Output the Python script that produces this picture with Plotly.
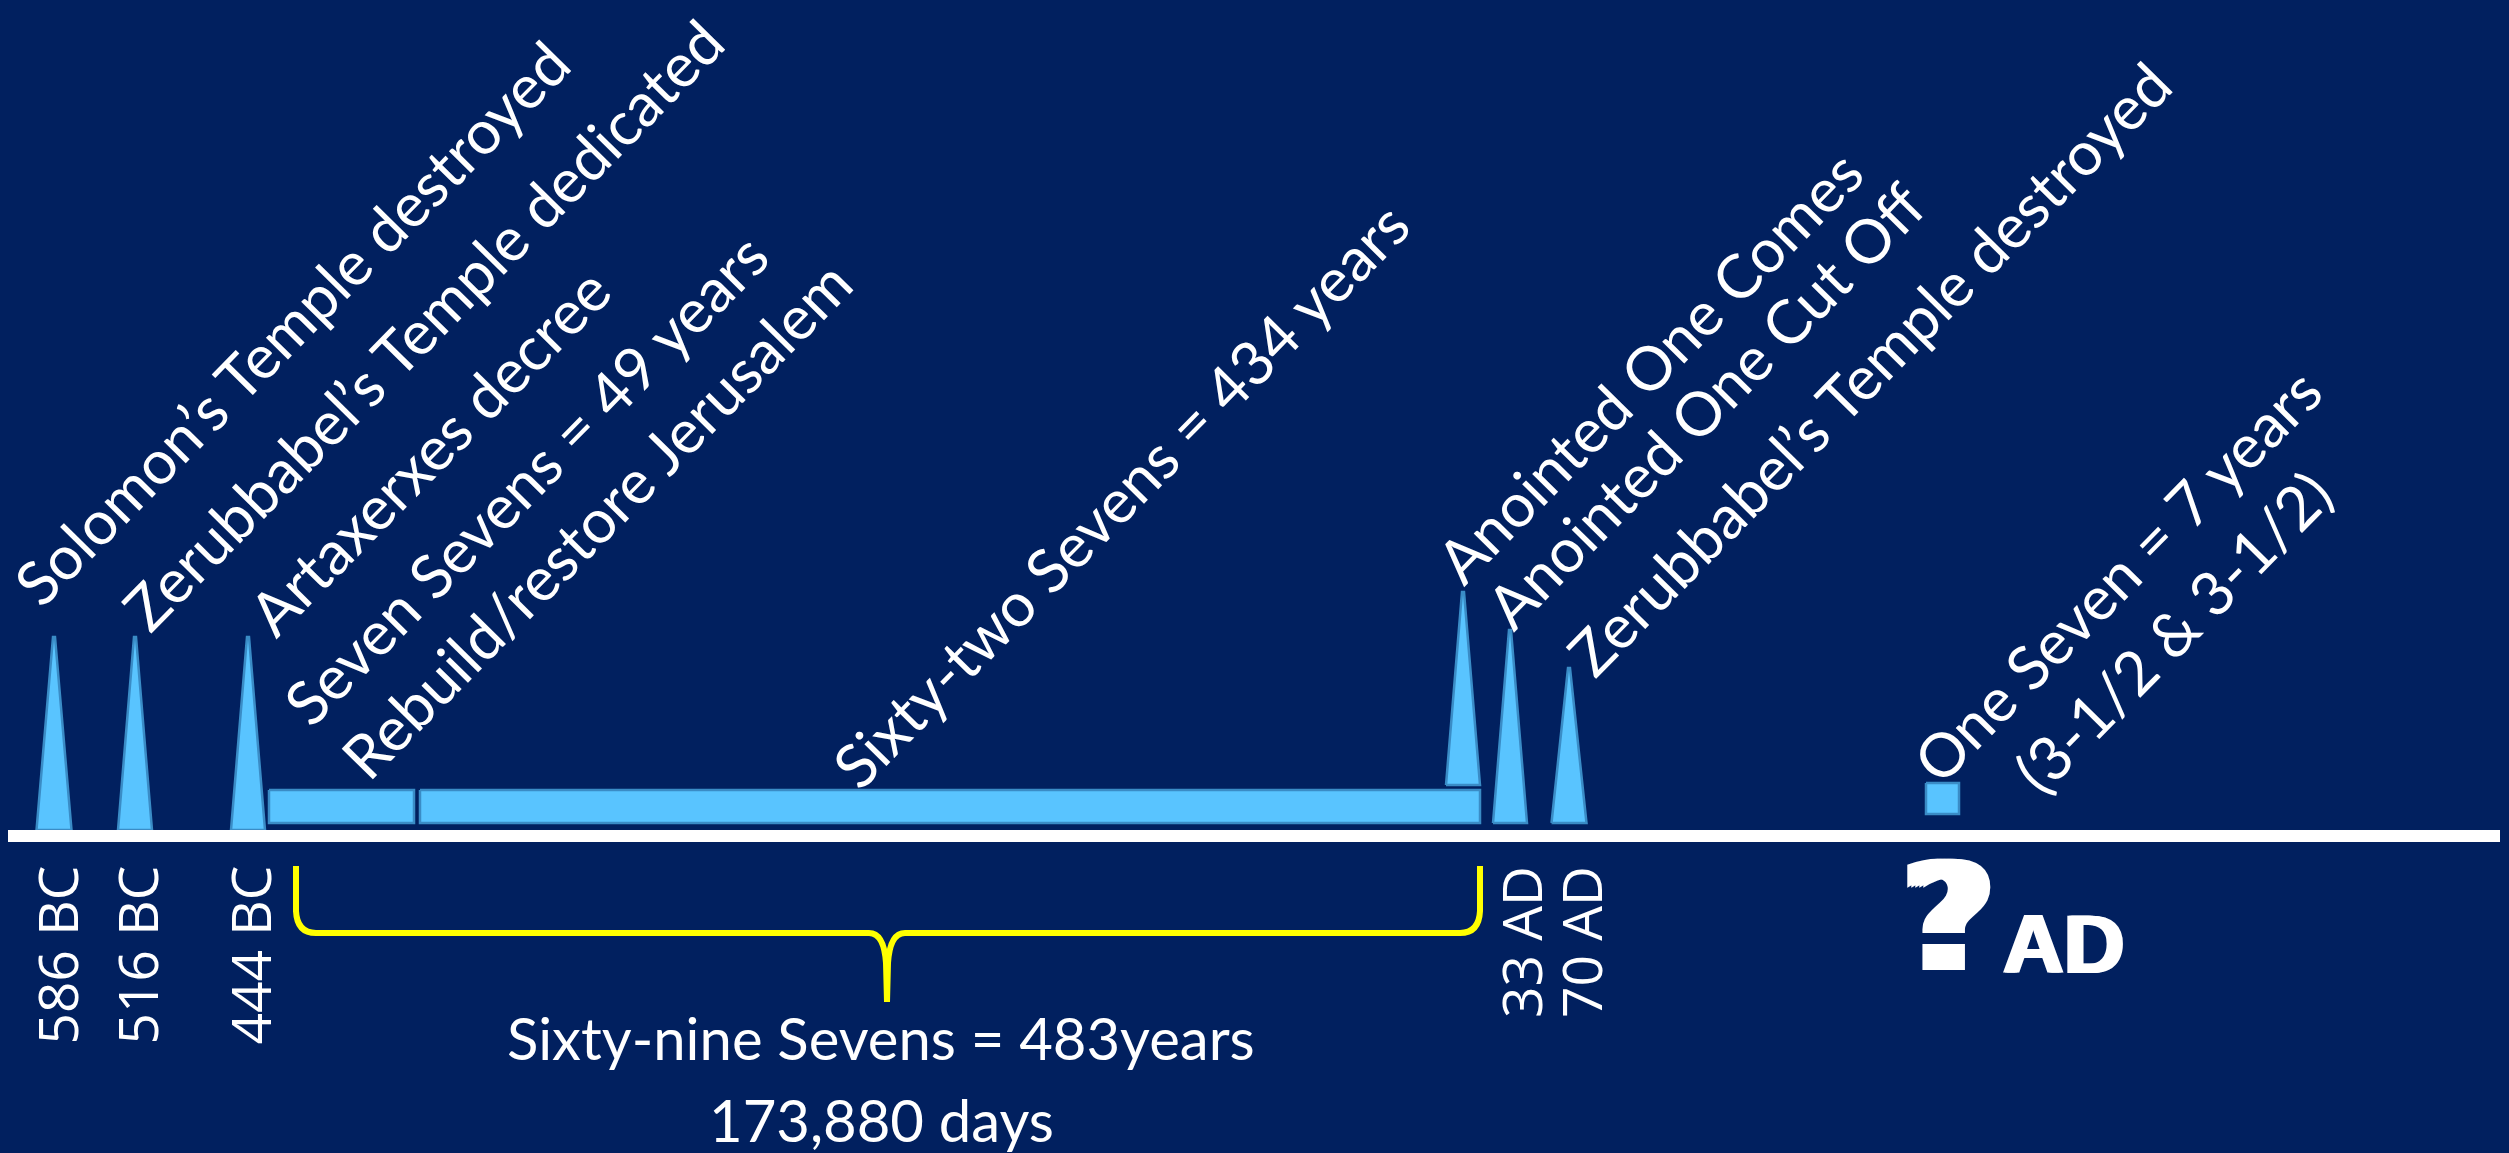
import plotly.graph_objects as go

# ---------------- data (text content) ----------------
event_labels = [
    "Solomon’s Temple destroyed",
    "Zerubbabel’s Temple dedicated",
    "Artaxerxes decree",
    "Anointed One Comes",
    "Anointed One Cut Off",
    "Zerubbabel’s Temple destroyed",
]
date_labels = ["586 BC", "516 BC", "444 BC", "33 AD", "70 AD"]
period_labels = [
    "Seven Sevens = 49 years",
    "Rebuild/restore Jerusalem",
    "Sixty-two Sevens = 434 years",
    "One Seven = 7 years",
    "(3-1/2 & 3-1/2)",
]
span_labels = ["Sixty-nine Sevens = 483years", "173,880 days"]
future_labels = ["?", "AD"]

# ---------------- layout geometry (diagram units = pixels) ----------------
W, H = 2509, 1153
spike_x = [54, 135, 248, 1463, 1510, 1569]
spike_top = [637, 637, 637, 592, 630, 668]
spike_base = [830, 830, 830, 785, 823, 823]
spike_half = [17.5, 17, 17, 17, 17, 17.5]

block_x0 = [269, 420, 1926]
block_x1 = [414, 1480, 1959]
block_y0 = [790, 790, 783]
block_y1 = [823, 823, 814]

axis_y0, axis_y1, axis_x0, axis_x1 = 830, 842, 8, 2500

date_x = [56, 136, 249, 1520, 1580]
date_top = 864

event_cx = [291, 422, 1648, 1704, 1868]
event_cy = [322, 324, 366, 405, 368]
artax_c = (428, 451)
period_cx = [525, 595, 1120, 2116, 2172]
period_cy = [478, 519, 494, 575, 631]

span_cx = 881
span_cy = [1037, 1119]

brace = dict(x0=296, x1=1480, xm=887, top=866, bar=933, tip=1002)

q_c = (1948, 918)
ad_c = (2063, 944)

# ---------------- styles ----------------
BG = "#01205F"
FILL = "#59C4FF"
EDGE = "#3A8CC6"
WHITE = "#FFFFFF"
YELLOW = "#FFFF00"
ANGLE = -45.5
DIAG_FONT = dict(family="Lato", size=61, color=WHITE)
DATE_FONT = dict(family="Open Sans", size=55, color=WHITE)
SPAN_FONT = dict(family="Lato", size=58, color=WHITE)
Q_FONT = dict(family="DejaVu Sans", size=150, color=WHITE, weight="bold",
              shadow="8px 0 0 #fff, -8px 0 0 #fff, 4px 0 0 #fff, -4px 0 0 #fff")
AD_FONT = dict(family="Liberation Sans", size=84, color=WHITE, weight="bold",
               shadow="2px 0 0 #fff, -2px 0 0 #fff")

fig = go.Figure()

# spikes (triangles)
for cx, top, base, hw in zip(spike_x, spike_top, spike_base, spike_half):
    fig.add_trace(go.Scatter(
        x=[cx - hw, cx - 1, cx + 1, cx + hw, cx - hw],
        y=[base, top, top, base, base],
        mode="lines", fill="toself", fillcolor=FILL,
        line=dict(color=EDGE, width=2.5), hoverinfo="skip", showlegend=False))

# blocks
for x0, x1, y0, y1 in zip(block_x0, block_x1, block_y0, block_y1):
    fig.add_trace(go.Scatter(
        x=[x0, x1, x1, x0, x0], y=[y0, y0, y1, y1, y0],
        mode="lines", fill="toself", fillcolor=FILL,
        line=dict(color=EDGE, width=2.5), hoverinfo="skip", showlegend=False))

# time axis line
fig.add_shape(type="rect", xref="x", yref="y", x0=axis_x0, x1=axis_x1,
              y0=axis_y0, y1=axis_y1, fillcolor=WHITE, line=dict(width=0))

# brace
b = brace
path = (
    f"M {b['x0']} {b['top']} L {b['x0']} {b['bar']-22} "
    f"Q {b['x0']+1} {b['bar']} {b['x0']+20} {b['bar']} "
    f"L {b['xm']-18} {b['bar']} "
    f"Q {b['xm']-3} {b['bar']} {b['xm']-1} {b['bar']+30} "
    f"L {b['xm']} {b['tip']} "
    f"L {b['xm']+1} {b['bar']+30} "
    f"Q {b['xm']+3} {b['bar']} {b['xm']+18} {b['bar']} "
    f"L {b['x1']-20} {b['bar']} "
    f"Q {b['x1']-1} {b['bar']} {b['x1']} {b['bar']-22} "
    f"L {b['x1']} {b['top']}"
)
fig.add_shape(type="path", xref="x", yref="y", path=path,
              line=dict(color=YELLOW, width=6))

annotations = []

def add_text(text, x, y, font, angle=0, xanchor="center", yanchor="middle"):
    annotations.append(dict(text=text, x=x, y=y, xref="x", yref="y",
                            showarrow=False, textangle=angle, font=font,
                            xanchor=xanchor, yanchor=yanchor))

# event captions
ev_order = [0, 1, 3, 4, 5]
for i, cx, cy in zip(ev_order, event_cx, event_cy):
    add_text(event_labels[i], cx, cy, DIAG_FONT, ANGLE)
add_text(event_labels[2], artax_c[0], artax_c[1], DIAG_FONT, ANGLE)

# period captions
for lab, cx, cy in zip(period_labels, period_cx, period_cy):
    add_text(lab, cx, cy, DIAG_FONT, ANGLE)

# dates (vertical)
for lab, x in zip(date_labels, date_x):
    add_text(lab, x, date_top, DATE_FONT, -90, "center", "top")

# span captions
for lab, cy in zip(span_labels, span_cy):
    add_text(lab, span_cx, cy, SPAN_FONT)

# future
add_text(future_labels[0], q_c[0], q_c[1], Q_FONT)
add_text(future_labels[1], ad_c[0], ad_c[1], AD_FONT)

fig.update_layout(
    width=W, height=H,
    margin=dict(l=0, r=0, t=0, b=0, pad=0),
    paper_bgcolor=BG, plot_bgcolor=BG,
    xaxis=dict(range=[0, W], visible=False, fixedrange=True),
    yaxis=dict(range=[H, 0], visible=False, fixedrange=True),
    annotations=annotations,
    showlegend=False,
)

fig.write_html("out.html", config={"displayModeBar": False},
               post_script="document.body.style.margin='0';document.body.style.overflow='hidden';")
